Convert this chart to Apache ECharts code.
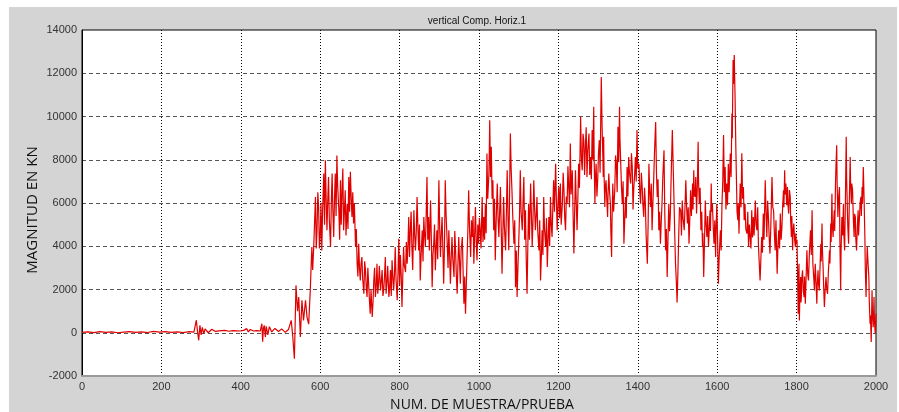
<!DOCTYPE html>
<html>
<head>
<meta charset="utf-8">
<script src="https://cdn.jsdelivr.net/npm/echarts@6/dist/echarts.min.js"></script>
<style>html,body{margin:0;padding:0;background:#fff;}#c{width:899px;height:412px;}</style>
</head>
<body>
<div id="c"></div>
<script>
var titleText = 'vertical Comp. Horiz.1';
var xAxisName = 'NUM. DE MUESTRA/PRUEBA';
var yAxisName = 'MAGNITUD EN KN';
var xTicks = [0, 200, 400, 600, 800, 1000, 1200, 1400, 1600, 1800, 2000];
var yTicks = [-2000, 0, 2000, 4000, 6000, 8000, 10000, 12000, 14000];

// [sample number, magnitude], by stretch of the record
var quietStart = [[0,20],[15,40],[30,10],[45,50],[60,20],[75,40],[90,0],[105,30],[120,50],[135,20],[150,40],[165,10],[180,60],[195,30],[210,50],[225,20],[240,40],[255,10],[270,50],[282,30]];
var firstBurst = [[288,580],[291,50],[294,-350],[297,340],[300,-100],[303,250],[307,-50],[310,180],[314,150],[318,0],[323,40],[327,160],[331,140],[336,60],[340,100],[345,90],[350,60],[360,110],[370,70],[380,100],[390,90],[399,80],[404,100],[407,110],[411,60],[415,190],[419,40],[424,150],[428,70],[432,80],[440,100],[449,80]];
var secondBurst = [[453,420],[455,-420],[457,200],[459,340],[462,-200],[464,300],[466,250],[468,-100],[470,-50],[472,280],[474,190],[478,40],[482,110],[486,200],[491,150],[495,60],[499,40],[503,180],[508,110],[512,20],[516,-50],[520,150],[523,190],[527,570],[531,-200]];
var rise = [[535,-1200],[539,2190],[543,1000],[546,1650],[550,-200],[554,1500],[558,570],[563,1500],[567,700],[571,400],[575,1960],[577,3000],[579,3970],[581,2900],[584,4100],[586,5200],[588,6280],[590,3900],[592,4740],[594,6500],[596,5800],[598,3900],[600,4430],[602,6000],[604,3800],[606,5600],[609,7360],[611,5000],[613,7980],[615,6200],[617,4740],[619,6100],[621,7200],[623,5200],[626,3970],[628,6000],[630,7360],[632,5600],[634,4430],[636,6200],[638,7360],[640,5400],[642,8200],[644,6800],[647,5660],[649,4300],[651,7050],[653,5000],[655,6590],[657,7600],[659,4740],[661,5600],[663,6590],[665,4500],[668,5970],[670,4800],[672,7200],[674,5600],[676,7440],[678,6300],[680,5350],[682,6500],[684,5050],[686,6000],[689,3970],[691,4800],[693,3200],[695,2600],[697,4120],[699,3000],[701,2420],[703,3200],[705,3500],[707,2500],[710,1800],[712,3300],[714,2890],[716,2100],[718,1650],[720,3000],[722,2270],[724,1500],[726,880],[728,2000],[731,725],[733,1400],[735,2420],[737,3000],[739,1650],[741,2100],[743,3190],[745,1800],[747,2270],[749,3100],[752,1960]];
var middle1 = [[754,2400],[756,2900],[758,1700],[760,2000],[762,2600],[764,3500],[766,1800],[768,2300],[770,3100],[773,1650],[775,2100],[777,2900],[779,1700],[781,3350],[783,2600],[785,1960],[787,2700],[789,3970],[791,2500],[794,1500],[796,2800],[798,4350],[800,2200],[802,3600],[804,2700],[806,1190],[808,2600],[810,3970],[812,3100],[815,2800],[817,4200],[819,3190],[821,4000],[823,5350],[825,3500],[827,4740],[829,5600],[831,3970],[833,2900],[836,5660],[838,4500],[840,3810],[842,4700],[844,6280],[846,4900],[848,3810],[850,5000],[852,2420],[854,3500],[857,4740],[859,3300],[861,5350],[863,4500],[865,3970],[867,5500],[869,7200],[871,4300],[873,5350],[875,3800],[878,6120],[880,4300],[882,2110],[884,3600],[886,4120],[888,5000],[890,2890],[892,3900],[894,4740],[896,3400],[899,7050],[901,4800],[903,3500],[905,4600],[907,5350],[909,3900],[911,2270],[913,4000],[915,7050],[917,5500],[920,4120],[922,3000],[924,4740],[926,3600],[928,2270],[930,3500],[932,4430],[934,3400],[937,2580],[939,4700],[941,3810],[943,2600],[945,1800],[947,3200],[949,4430],[951,3300],[953,2270],[955,3800],[958,4430],[960,2800],[962,1340],[964,2600],[966,880],[968,2200],[970,3500],[972,4800],[974,6590],[976,4900],[979,3500],[981,5200],[983,4430],[985,5400],[987,3190],[989,4500],[991,5820],[993,4200]];
var middle2 = [[995,3350],[997,5000],[999,4120],[1001,5300],[1003,4740],[1005,3900],[1008,6280],[1010,4200],[1012,5350],[1014,4300],[1016,5970],[1018,4600],[1020,8290],[1022,6200],[1025,7360],[1026,8400],[1027,9830],[1029,7200],[1031,8600],[1033,6200],[1035,7050],[1036,5800],[1037,4740],[1039,6200],[1041,3350],[1043,5000],[1046,6900],[1048,5300],[1050,4430],[1052,5600],[1054,6740],[1056,4800],[1058,2730],[1060,4500],[1062,6280],[1064,4900],[1067,3810],[1069,5600],[1071,7510],[1073,5400],[1075,3810],[1077,6300],[1079,9210],[1081,7600],[1083,6590],[1085,5400],[1088,4120],[1090,5200],[1092,2110],[1094,3800],[1096,1650],[1098,3000],[1100,4120],[1102,5400],[1104,7510],[1106,5600],[1109,4740],[1111,6100],[1113,7200],[1115,4300],[1117,5660],[1119,3400],[1121,1800],[1123,4000],[1125,5970],[1127,4300],[1130,6900],[1132,5500],[1134,3970],[1136,5200],[1138,7050],[1140,5800],[1142,4740],[1144,5400],[1146,6280],[1148,4700],[1151,3810],[1153,5200],[1155,2420],[1157,3500],[1159,4740],[1161,3600],[1163,6280],[1165,4800],[1168,3970],[1170,5300],[1172,3040],[1174,4300],[1176,5350],[1178,4000],[1180,6280],[1182,5000],[1184,4430],[1186,5800],[1188,7050],[1190,5600],[1193,7820],[1195,6100],[1197,4740],[1199,6000],[1201,6740],[1203,5300],[1205,6900],[1207,5000],[1210,5970],[1212,7400],[1214,6590],[1216,5300],[1218,4740],[1220,6300],[1222,5970],[1224,7700],[1226,6740],[1228,5800],[1230,8750],[1232,6400],[1235,7510],[1237,5500],[1239,3660],[1241,5600],[1243,7510],[1245,6000]];
var plateau = [[1247,4740],[1249,6200],[1251,7820],[1253,6700],[1256,9980],[1258,8000],[1260,7510],[1262,9200],[1264,8900],[1266,7300],[1268,8600],[1270,9500],[1272,7200],[1274,8400],[1277,9210],[1279,7300],[1281,8130],[1283,7100],[1285,9370],[1287,8000],[1289,10450],[1290,8200],[1292,5970],[1293,7000],[1295,7820],[1297,6300],[1299,7050],[1301,8300],[1303,8900],[1305,7400],[1308,11830],[1310,9600],[1312,8130],[1313,7200],[1314,9060],[1315,7400],[1317,5820],[1318,6700],[1320,7050],[1322,6100],[1324,5350],[1325,6400],[1327,7360],[1329,6500],[1331,5970],[1332,4800],[1334,3500],[1335,5100],[1337,6900],[1339,5600],[1342,6590],[1344,8200],[1346,7820],[1348,6500],[1350,9520],[1352,7900],[1354,10450],[1355,9000],[1357,7820],[1359,6700],[1361,5970],[1363,7000],[1365,4120],[1367,5200],[1369,6280],[1371,5300],[1373,7660],[1375,6300],[1377,8130],[1379,7400],[1382,6900],[1384,8300],[1386,7660],[1388,5700],[1390,6740],[1392,7300],[1394,8130],[1396,7000],[1398,9370],[1400,7600],[1403,7820],[1405,6500],[1407,5970],[1409,7400],[1411,6740],[1413,5900],[1415,5350],[1417,6700],[1419,5970],[1421,4500],[1424,3190],[1426,5000],[1428,7820],[1430,6500],[1432,5820],[1434,6900],[1436,4740],[1438,6000],[1440,7050],[1442,8300],[1445,9750],[1447,7400],[1449,6280],[1451,7100],[1453,4740],[1455,5600],[1457,4120],[1459,5100],[1461,5970],[1463,7200],[1466,8440],[1468,5500],[1470,3810],[1472,4800],[1474,2580],[1476,4300],[1478,5970],[1480,4700],[1482,5510],[1484,7200],[1487,9370],[1489,7800],[1491,6280],[1493,4600],[1495,3190],[1497,2400],[1499,1400],[1501,2800],[1503,4430],[1505,5800]];
var bigPeak = [[1508,5660],[1510,4500],[1512,6120],[1514,5300],[1517,4740],[1519,5900],[1521,7050],[1523,5800],[1525,5050],[1527,5800],[1529,4120],[1531,5300],[1533,6590],[1535,5400],[1538,6900],[1539,5700],[1541,7510],[1542,6400],[1544,6280],[1546,7200],[1548,5510],[1550,6800],[1552,8830],[1553,7000],[1555,5970],[1557,6700],[1559,4740],[1561,5600],[1563,3970],[1564,4600],[1566,2580],[1568,4200],[1570,6120],[1572,5000],[1574,4430],[1576,5400],[1578,3970],[1580,4800],[1582,5660],[1583,4700],[1585,6900],[1586,5600],[1588,5970],[1590,4900],[1592,4120],[1594,5200],[1596,3500],[1597,4600],[1599,5970],[1601,4300],[1603,2270],[1605,3500],[1608,4740],[1610,3800],[1612,5970],[1614,7000],[1616,9140],[1618,6500],[1620,7660],[1622,5700],[1624,6900],[1626,5900],[1628,7820],[1630,6500],[1633,8290],[1635,7200],[1637,10140],[1638,9000],[1640,12610],[1641,11500],[1643,12840],[1644,11800],[1645,10910],[1647,8500],[1649,6590],[1650,5600],[1652,5200],[1653,6000],[1655,4580],[1656,5600],[1658,6900],[1660,5800],[1662,8300],[1664,6200],[1666,6740],[1668,5200],[1670,5970],[1672,4800],[1675,4580],[1677,5600],[1679,3970],[1681,5000],[1683,4430],[1685,3900],[1687,5660],[1689,4400],[1691,5350],[1693,4500],[1696,6120],[1698,5000],[1700,4740],[1702,5800],[1704,3970],[1706,3200],[1708,2420],[1710,3400],[1712,4430],[1714,3700],[1716,5510],[1718,4300],[1721,7050],[1723,5600],[1725,4430],[1727,6100],[1729,5350],[1731,4400],[1733,3660],[1735,4900],[1738,7200],[1740,5800],[1742,5660],[1744,4600],[1746,3810],[1748,5200]];
var ending = [[1751,2730],[1753,4000],[1755,4740],[1757,3900],[1759,5510],[1761,4300],[1763,4890],[1765,5900],[1767,6590],[1768,5800],[1770,7510],[1771,6400],[1773,6900],[1775,5900],[1777,6740],[1778,6000],[1780,5510],[1782,6600],[1784,6280],[1785,5200],[1787,4430],[1788,5400],[1790,3810],[1791,4600],[1793,5050],[1795,4300],[1797,3970],[1798,4600],[1799,4120],[1801,4300],[1802,3190],[1803,2000],[1804,880],[1805,2500],[1806,3190],[1807,570],[1808,1500],[1810,2580],[1811,1400],[1812,1650],[1813,2500],[1815,2890],[1817,1900],[1819,1650],[1820,2600],[1822,1340],[1824,2600],[1826,3810],[1828,2700],[1830,2420],[1832,3600],[1835,4740],[1837,3600],[1839,5660],[1840,4400],[1841,3190],[1843,2600],[1845,1960],[1846,2700],[1847,3190],[1849,2300],[1851,1340],[1852,2200],[1854,2890],[1855,2300],[1857,1960],[1859,3000],[1861,4120],[1862,3300],[1864,5050],[1865,3900],[1867,2890],[1868,2200],[1870,1190],[1872,2000],[1874,2580],[1876,2000],[1878,1800],[1880,2800],[1883,3810],[1884,3200],[1886,5050],[1887,4200],[1889,6430],[1890,5000],[1892,4430],[1893,5000],[1895,5660],[1896,4700],[1898,6900],[1899,7600],[1901,8670],[1902,7000],[1904,5350],[1906,6300],[1908,6740],[1909,4300],[1911,1960],[1912,3800],[1914,5350],[1916,4500],[1918,5970],[1919,4600],[1921,3810],[1923,6200],[1925,9060],[1926,7200],[1928,5660],[1929,4900],[1931,4120],[1933,6300],[1935,8130],[1936,6900],[1938,5970],[1939,6900],[1941,6590],[1943,5200],[1945,4430],[1946,5500],[1948,5350],[1949,4400],[1951,3810],[1953,4900],[1955,5660],[1956,4500],[1958,5200],[1960,6000],[1962,6280],[1963,5400],[1965,6740],[1966,6000],[1968,7660],[1970,6200],[1972,4430],[1973,3000],[1975,1650],[1976,2800],[1978,3970],[1980,3200],[1982,2580],[1983,1500],[1985,420],[1986,800],[1988,-430],[1989,800],[1990,1960],[1991,1000],[1993,260],[1994,900],[1995,1650],[1996,600],[1998,-50],[1999,400],[2000,880]];

var seriesData = [].concat(quietStart, firstBurst, secondBurst, rise, middle1, middle2, plateau, bigPeak, ending);

var chart = echarts.init(document.getElementById('c'));
var baseFont = 'Liberation Sans, Arial, sans-serif';
function plain(v) { return String(v); }
chart.setOption({
  animation: false,
  backgroundColor: '#ffffff',
  graphic: [
    { type: 'rect', z: -100, silent: true, shape: { x: 9, y: 7, width: 888, height: 405 }, style: { fill: '#d4d4d4' } },
    { type: 'text', x: 477, y: 21, style: { text: titleText, textAlign: 'center', textVerticalAlign: 'middle', font: '10px ' + baseFont, fill: '#111' } },
    { type: 'text', x: 482, y: 405, style: { text: xAxisName, textAlign: 'center', textVerticalAlign: 'middle', font: '14px "Open Sans", sans-serif', fill: '#111' } },
    { type: 'text', x: 33, y: 210, rotation: Math.PI / 2, style: { text: yAxisName, textAlign: 'center', textVerticalAlign: 'middle', font: '15px "Open Sans", sans-serif', fill: '#111' } }
  ],
  grid: { left: 82, top: 30, right: 23, bottom: 36, show: true, backgroundColor: '#ffffff', borderColor: '#000', borderWidth: 1 },
  xAxis: {
    type: 'value', min: xTicks[0], max: xTicks[xTicks.length - 1], interval: 200,
    axisLine: { show: true, onZero: false, lineStyle: { color: '#9a9a9a', width: 2 } },
    axisTick: { show: false },
    axisLabel: { color: '#333', fontSize: 11, fontFamily: baseFont, margin: 5, formatter: plain },
    splitLine: { show: true, showMinLine: false, showMaxLine: false, lineStyle: { color: '#000', type: [1, 2], width: 1 } }
  },
  yAxis: {
    type: 'value', min: yTicks[0], max: yTicks[yTicks.length - 1], interval: 2000,
    axisLine: { show: true, onZero: false, lineStyle: { color: '#000', width: 1 } },
    axisTick: { show: false },
    axisLabel: { color: '#333', fontSize: 11, fontFamily: baseFont, margin: 5, formatter: plain },
    splitLine: { show: true, showMinLine: false, showMaxLine: false, lineStyle: { color: '#555', type: [4, 3], width: 1 } }
  },
  series: [{
    type: 'line', data: seriesData, showSymbol: false, symbol: 'none', sampling: null,
    lineStyle: { color: '#e00000', width: 1.2 }, z: 3
  }]
});
</script>
</body>
</html>
